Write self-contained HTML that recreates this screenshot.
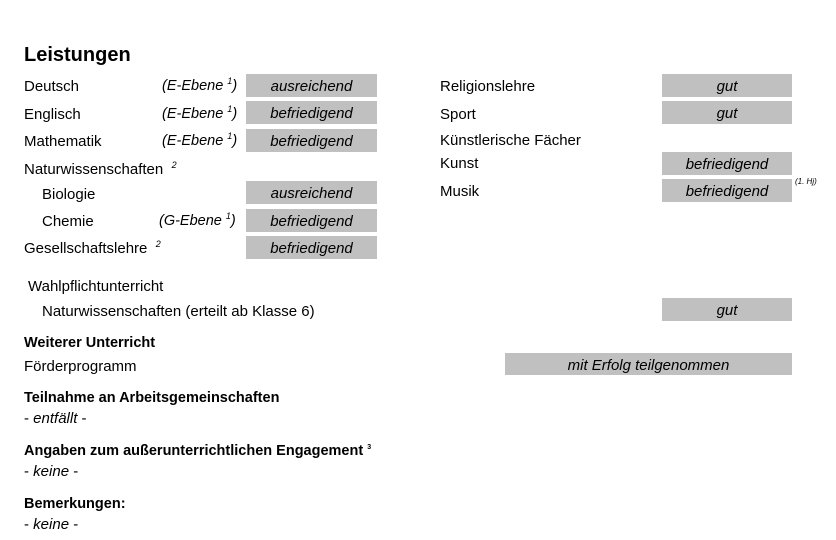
<!DOCTYPE html>
<html><head><meta charset="utf-8"><style>
body{margin:0;width:836px;height:540px;background:#fff;position:relative;font-family:"Liberation Sans",sans-serif;font-size:15px;color:#000;overflow:hidden}
.t{position:absolute;line-height:21px;white-space:nowrap}
.b{font-weight:bold;font-size:14.5px}
.i{font-style:italic}
.box{position:absolute;background:#c0c0c0;font-style:italic;text-align:center;line-height:26px;height:23px;font-size:15px;overflow:hidden}
sup{font-size:9px;vertical-align:6px;line-height:0}
</style></head><body>
<div class="t b" style="left:24px;top:43px;font-size:20px;line-height:24px">Leistungen</div>

<div class="t" style="left:24px;top:76px">Deutsch</div>
<div class="t i" style="left:162px;top:76px;font-size:14.5px">(E-Ebene <sup>1</sup>)</div>
<div class="box" style="left:246px;top:74px;width:131px">ausreichend</div>

<div class="t" style="left:24px;top:104px">Englisch</div>
<div class="t i" style="left:162px;top:104px;font-size:14.5px">(E-Ebene <sup>1</sup>)</div>
<div class="box" style="left:246px;top:101px;width:131px">befriedigend</div>

<div class="t" style="left:24px;top:131px">Mathematik</div>
<div class="t i" style="left:162px;top:131px;font-size:14.5px">(E-Ebene <sup>1</sup>)</div>
<div class="box" style="left:246px;top:129px;width:131px">befriedigend</div>

<div class="t" style="left:24px;top:159px">Naturwissenschaften &nbsp;<sup class="i">2</sup></div>

<div class="t" style="left:42px;top:184px">Biologie</div>
<div class="box" style="left:246px;top:181px;width:131px">ausreichend</div>

<div class="t" style="left:42px;top:211px">Chemie</div>
<div class="t i" style="left:159px;top:211px;font-size:14.5px">(G-Ebene <sup>1</sup>)</div>
<div class="box" style="left:246px;top:209px;width:131px">befriedigend</div>

<div class="t" style="left:24px;top:238px">Gesellschaftslehre &nbsp;<sup class="i">2</sup></div>
<div class="box" style="left:246px;top:236px;width:131px">befriedigend</div>

<div class="t" style="left:440px;top:76px">Religionslehre</div>
<div class="box" style="left:662px;top:74px;width:130px">gut</div>
<div class="t" style="left:440px;top:104px">Sport</div>
<div class="box" style="left:662px;top:101px;width:130px">gut</div>
<div class="t" style="left:440px;top:130px">Künstlerische Fächer</div>
<div class="t" style="left:440px;top:153px">Kunst</div>
<div class="box" style="left:662px;top:152px;width:130px">befriedigend</div>
<div class="t" style="left:440px;top:181px">Musik</div>
<div class="box" style="left:662px;top:179px;width:130px">befriedigend</div>
<div class="t i" style="left:795px;top:176px;font-size:8px;line-height:12px">(1. Hj)</div>

<div class="t" style="left:28px;top:276px">Wahlpflichtunterricht</div>
<div class="t" style="left:42px;top:301px">Naturwissenschaften (erteilt ab Klasse 6)</div>
<div class="box" style="left:662px;top:298px;width:130px">gut</div>

<div class="t b" style="left:24px;top:333px">Weiterer Unterricht</div>
<div class="t" style="left:24px;top:356px">Förderprogramm</div>
<div class="box" style="left:505px;top:353px;width:287px;height:22px;line-height:25px">mit Erfolg teilgenommen</div>

<div class="t b" style="left:24px;top:388px">Teilnahme an Arbeitsgemeinschaften</div>
<div class="t" style="left:24px;top:408px">- <i>entfällt</i> -</div>

<div class="t b" style="left:24px;top:441px">Angaben zum außerunterrichtlichen Engagement <sup style="font-size:7px">3</sup></div>
<div class="t" style="left:24px;top:461px">- <i>keine</i> -</div>

<div class="t b" style="left:24px;top:494px">Bemerkungen:</div>
<div class="t" style="left:24px;top:514px">- <i>keine</i> -</div>
</body></html>
